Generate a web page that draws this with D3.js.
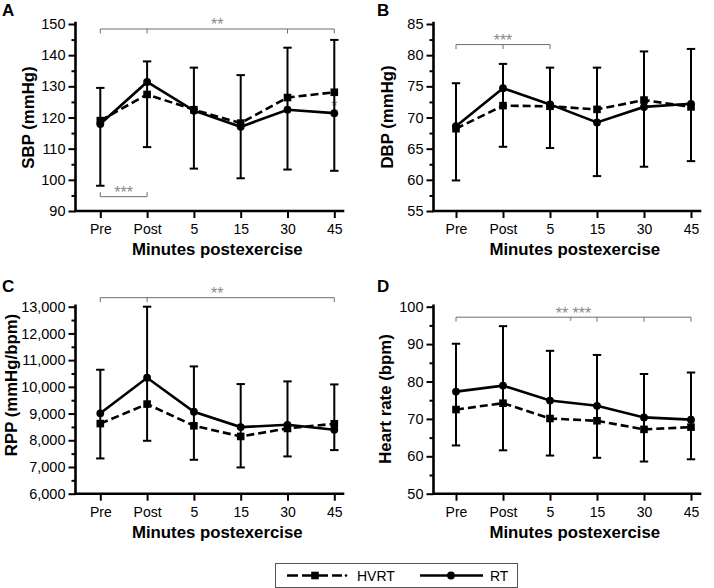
<!DOCTYPE html>
<html><head><meta charset="utf-8">
<script src="https://cdn.jsdelivr.net/npm/d3@7"></script>
<style>
html,body{margin:0;padding:0;background:#fff;}
svg{display:block;font-family:"Liberation Sans",Arial,Helvetica,sans-serif;}
</style></head>
<body>
<svg id="chart" width="714" height="588"></svg>
<script>
// ---------- data ----------
const categories = ["Pre", "Post", "5", "15", "30", "45"];

const sbpHVRT    = [119.0, 127.4, 122.5, 118.2, 126.4, 128.1];
const sbpRT      = [117.9, 131.4, 122.2, 117.0, 122.5, 121.4];
const sbpErrHigh = [129.5, 138.0, 136.0, 133.6, 142.4, 144.9];
const sbpErrLow  = [98.1, 110.5, 103.6, 100.5, 103.3, 102.9];
const sbpTicks   = [90, 100, 110, 120, 130, 140, 150];

const dbpHVRT    = [68.2, 71.9, 71.8, 71.3, 72.8, 71.7];
const dbpRT      = [68.6, 74.7, 72.1, 69.2, 71.7, 72.2];
const dbpErrHigh = [75.5, 78.6, 78.0, 78.0, 80.6, 81.0];
const dbpErrLow  = [59.9, 65.3, 65.1, 60.6, 62.1, 63.0];
const dbpTicks   = [55, 60, 65, 70, 75, 80, 85];

const rppHVRT    = [8625, 9355, 8543, 8144, 8443, 8618];
const rppRT      = [9010, 10340, 9067, 8493, 8580, 8393];
const rppErrHigh = [10640, 13000, 10765, 10104, 10204, 10091];
const rppErrLow  = [7320, 7981, 7270, 6983, 7395, 7632];
const rppTicks   = [6000, 7000, 8000, 9000, 10000, 11000, 12000, 13000];

const hrHVRT     = [72.5, 74.2, 70.1, 69.5, 67.2, 67.8];
const hrRT       = [77.3, 78.9, 74.9, 73.5, 70.4, 69.8];
const hrErrHigh  = [90.1, 94.8, 88.2, 87.1, 82.0, 82.4];
const hrErrLow   = [62.9, 61.6, 60.2, 59.6, 58.6, 59.2];
const hrTicks    = [50, 60, 70, 80, 90, 100];

// significance brackets: value level, span indices, tick indices, tick direction, label
const sbpBrackets = [
  {level: 148.4, from: 0, to: 5, ticks: [0, 1, 4, 5], dir: 1, label: "**"},
  {level: 94.6, from: 0, to: 1, ticks: [0, 1], dir: -1, label: "***"}
];
const sbpStars = [{index: 5, level: 125.0, label: "*"}];
const dbpBrackets = [{level: 81.7, from: 0, to: 2, ticks: [0, 1, 2], dir: 1, label: "***"}];
const rppBrackets = [{level: 13337, from: 0, to: 5, ticks: [0, 1, 5], dir: 1, label: "**"}];
const hrBrackets  = [{level: 97.2, from: 0, to: 5, ticks: [0, 3, 4, 5], dir: 1, label: "**,***"}];

const legendLabels = ["HVRT", "RT"];

// ---------- drawing ----------
const svg = d3.select("#chart");
svg.append("rect").attr("width", 714).attr("height", 588).attr("fill", "#fff");

function drawPanel(p) {
  const g = svg.append("g");
  const y = d3.scaleLinear().domain([p.ticks[0], p.ticks[p.ticks.length - 1]]).range([p.bottom, p.top]);
  const x = d3.scalePoint().domain(categories).range([p.p0, p.p1]);

  // minor ticks
  const minor = [];
  for (let i = 0; i < p.ticks.length - 1; i++) minor.push((p.ticks[i] + p.ticks[i + 1]) / 2);
  const minorAxis = g.append("g").attr("transform", `translate(${p.ax},0)`)
    .call(d3.axisLeft(y).tickValues(minor).tickSize(4).tickFormat(""));
  minorAxis.select(".domain").remove();
  minorAxis.selectAll("line").attr("stroke", "#000").attr("stroke-width", 2);

  const yAxis = g.append("g").attr("transform", `translate(${p.ax},0)`)
    .call(d3.axisLeft(y).tickValues(p.ticks).tickSize(7).tickPadding(3).tickFormat(p.fmt || d3.format("d")));
  yAxis.select(".domain").remove();
  yAxis.selectAll("line").attr("stroke", "#000").attr("stroke-width", 2);
  yAxis.selectAll("text").attr("font-size", 14.5).attr("fill", "#000")
    .attr("font-family", "Liberation Sans, Arial, sans-serif");

  const xAxis = g.append("g").attr("transform", `translate(0,${p.bottom})`)
    .call(d3.axisBottom(x).tickSize(7).tickPadding(6));
  xAxis.select(".domain").remove();
  xAxis.selectAll("line").attr("stroke", "#000").attr("stroke-width", 2);
  xAxis.selectAll("text").attr("font-size", 14).attr("fill", "#000")
    .attr("font-family", "Liberation Sans, Arial, sans-serif");

  // axis lines
  g.append("path")
    .attr("d", `M${p.ax},${p.top - 1}V${p.bottom}H${p.xEnd}`)
    .attr("fill", "none").attr("stroke", "#000").attr("stroke-width", 2.6)
    .attr("stroke-linejoin", "miter").attr("stroke-linecap", "square");

  // titles
  g.append("text").attr("x", (p.ax + p.xEnd) / 2 + p.titleDx).attr("y", p.bottom + 44)
    .attr("text-anchor", "middle").attr("font-size", 16.8).attr("font-weight", "bold")
    .text("Minutes postexercise");
  g.append("text").attr("transform", `translate(${p.ytx},${p.yty}) rotate(-90)`)
    .attr("text-anchor", "middle").attr("font-size", 16.8).attr("font-weight", "bold")
    .text(p.ytitle);
  g.append("text").attr("x", p.lx).attr("y", p.ly).attr("font-size", 17)
    .attr("font-weight", "bold").text(p.letter);

  // brackets
  p.brackets.forEach(b => {
    const yy = y(b.level);
    g.append("line").attr("x1", x(categories[b.from])).attr("x2", x(categories[b.to]))
      .attr("y1", yy).attr("y2", yy).attr("stroke", "#6e6e6e").attr("stroke-width", 1);
    b.ticks.forEach(t => {
      g.append("line").attr("x1", x(categories[t])).attr("x2", x(categories[t]))
        .attr("y1", yy).attr("y2", yy + 4.5 * b.dir).attr("stroke", "#6e6e6e").attr("stroke-width", 1);
    });
    g.append("text")
      .attr("x", (x(categories[b.from]) + x(categories[b.to])) / 2)
      .attr("y", yy + 1.5).attr("text-anchor", "middle").attr("font-size", 16)
      .attr("fill", "#8a8a8a").text(b.label);
  });
  (p.stars || []).forEach(s => {
    g.append("text").attr("x", x(categories[s.index])).attr("y", y(s.level) + 10)
      .attr("text-anchor", "middle").attr("font-size", 16).attr("fill", "#8a8a8a").text(s.label);
  });

  // error bars
  const cap = 4.2;
  categories.forEach((c, i) => {
    const cx = x(c), yh = y(p.hi[i]), yl = y(p.lo[i]);
    g.append("line").attr("x1", cx).attr("x2", cx).attr("y1", yh).attr("y2", yl)
      .attr("stroke", "#000").attr("stroke-width", 2);
    g.append("line").attr("x1", cx - cap).attr("x2", cx + cap).attr("y1", yh).attr("y2", yh)
      .attr("stroke", "#000").attr("stroke-width", 2);
    g.append("line").attr("x1", cx - cap).attr("x2", cx + cap).attr("y1", yl).attr("y2", yl)
      .attr("stroke", "#000").attr("stroke-width", 2);
  });

  const line = d3.line().x((d, i) => x(categories[i])).y(d => y(d));
  g.append("path").datum(p.hvrt).attr("d", line).attr("fill", "none")
    .attr("stroke", "#000").attr("stroke-width", 2.6).attr("stroke-dasharray", "8,4");
  g.append("path").datum(p.rt).attr("d", line).attr("fill", "none")
    .attr("stroke", "#000").attr("stroke-width", 2.6);
  g.selectAll(".sq").data(p.hvrt).enter().append("rect")
    .attr("x", (d, i) => x(categories[i]) - 3.8).attr("y", d => y(d) - 3.8)
    .attr("width", 7.6).attr("height", 7.6).attr("fill", "#000");
  g.selectAll(".ci").data(p.rt).enter().append("circle")
    .attr("cx", (d, i) => x(categories[i])).attr("cy", d => y(d)).attr("r", 3.9).attr("fill", "#000");
}

drawPanel({ax: 75.5, xEnd: 343, top: 24, bottom: 211, p0: 100.3, p1: 334.3, ticks: sbpTicks,
  hvrt: sbpHVRT, rt: sbpRT, hi: sbpErrHigh, lo: sbpErrLow, brackets: sbpBrackets, stars: sbpStars,
  ytitle: "SBP (mmHg)", ytx: 34, yty: 117.5, letter: "A", lx: 2, ly: 16, titleDx: 8});
drawPanel({ax: 433.5, xEnd: 700, top: 24, bottom: 211, p0: 456, p1: 691, ticks: dbpTicks,
  hvrt: dbpHVRT, rt: dbpRT, hi: dbpErrHigh, lo: dbpErrLow, brackets: dbpBrackets,
  ytitle: "DBP (mmHg)", ytx: 393, yty: 117, letter: "B", lx: 377, ly: 16, titleDx: 8});
drawPanel({ax: 75.5, xEnd: 343, top: 306.7, bottom: 493.7, p0: 100.3, p1: 334.3, ticks: rppTicks,
  fmt: d3.format(","),
  hvrt: rppHVRT, rt: rppRT, hi: rppErrHigh, lo: rppErrLow, brackets: rppBrackets,
  ytitle: "RPP (mmHg/bpm)", ytx: 16.5, yty: 385, letter: "C", lx: 2, ly: 292, titleDx: 8});
drawPanel({ax: 433.5, xEnd: 700, top: 306.7, bottom: 493.7, p0: 456, p1: 691, ticks: hrTicks,
  hvrt: hrHVRT, rt: hrRT, hi: hrErrHigh, lo: hrErrLow, brackets: hrBrackets,
  ytitle: "Heart rate (bpm)", ytx: 391, yty: 399, letter: "D", lx: 377, ly: 292, titleDx: 8});

// legend
const lg = svg.append("g");
lg.append("rect").attr("x", 275.5).attr("y", 563.5).attr("width", 242).attr("height", 24)
  .attr("fill", "#fff").attr("stroke", "#555").attr("stroke-width", 1);
const ly = 575.5;
lg.append("line").attr("x1", 287).attr("x2", 342).attr("y1", ly).attr("y2", ly)
  .attr("stroke", "#000").attr("stroke-width", 2.6).attr("stroke-dasharray", "11,4");
lg.append("circle").attr("cx", 346).attr("cy", ly).attr("r", 1.3).attr("fill", "#000");
lg.append("rect").attr("x", 315 - 3.8).attr("y", ly - 3.8).attr("width", 7.6).attr("height", 7.6).attr("fill", "#000");
lg.append("text").attr("x", 357).attr("y", ly + 5).attr("font-size", 14).text(legendLabels[0]);
lg.append("line").attr("x1", 420).attr("x2", 483).attr("y1", ly).attr("y2", ly)
  .attr("stroke", "#000").attr("stroke-width", 2.6);
lg.append("circle").attr("cx", 451).attr("cy", ly).attr("r", 3.9).attr("fill", "#000");
lg.append("text").attr("x", 490).attr("y", ly + 5).attr("font-size", 14).text(legendLabels[1]);
</script>
</body></html>
